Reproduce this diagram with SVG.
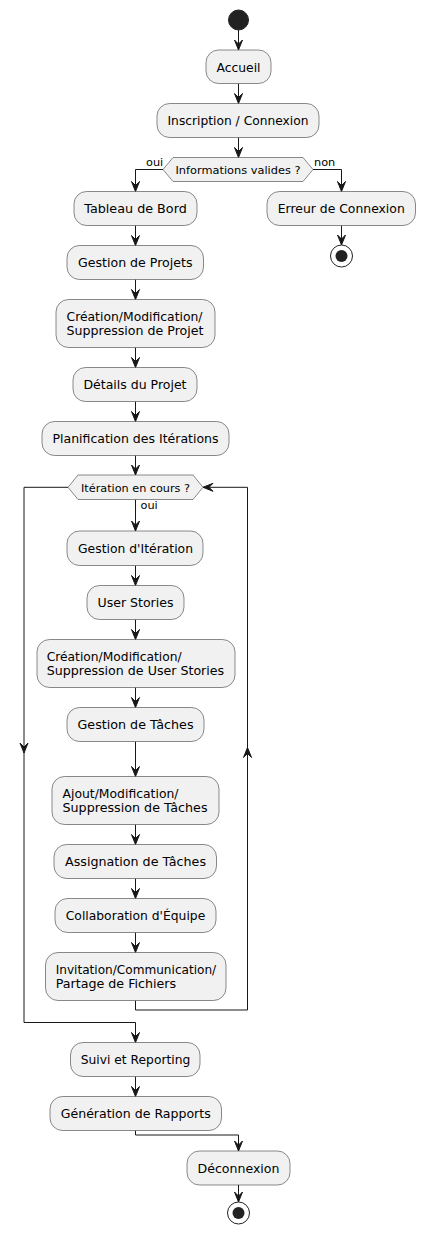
<svg xmlns="http://www.w3.org/2000/svg" width="425" height="1236" viewBox="0 0 425 1236">
<defs>
<style>
.box{fill:#F1F1F1;stroke:#181818;stroke-width:0.5}
.t{font-family:"DejaVu Sans",sans-serif;font-size:12.3px;fill:#000}
.tc{font-family:"DejaVu Sans",sans-serif;font-size:12.3px;fill:#000;text-anchor:middle}
.s{font-family:"DejaVu Sans",sans-serif;font-size:11.3px;fill:#000}
.sc{font-family:"DejaVu Sans",sans-serif;font-size:11.3px;fill:#000;text-anchor:middle}
.ln{fill:none;stroke:#181818;stroke-width:1}
.ah{fill:#181818;stroke:#181818;stroke-width:1}
</style>
</defs>
<rect width="425" height="1236" fill="#FFFFFF"/>
<g id="connectors">
<path class="ln" d="M238.5,30 L238.5,50"/>
<polygon class="ah" points="234.5,40 238.5,50 242.5,40 238.5,44"/>
<path class="ln" d="M238.5,83.5 L238.5,103.5"/>
<polygon class="ah" points="234.5,93.5 238.5,103.5 242.5,93.5 238.5,97.5"/>
<path class="ln" d="M238.5,137.5 L238.5,157.5"/>
<polygon class="ah" points="234.5,147.5 238.5,157.5 242.5,147.5 238.5,151.5"/>
<path class="ln" d="M163,169.5 L135.5,169.5 L135.5,191.5"/>
<polygon class="ah" points="131.5,181.5 135.5,191.5 139.5,181.5 135.5,185.5"/>
<path class="ln" d="M313,169.5 L341.5,169.5 L341.5,191.5"/>
<polygon class="ah" points="337.5,181.5 341.5,191.5 345.5,181.5 341.5,185.5"/>
<path class="ln" d="M341.5,225.5 L341.5,245"/>
<polygon class="ah" points="337.5,235 341.5,245 345.5,235 341.5,239"/>
<path class="ln" d="M135.5,225.5 L135.5,245.5"/>
<polygon class="ah" points="131.5,235.5 135.5,245.5 139.5,235.5 135.5,239.5"/>
<path class="ln" d="M135.5,279.5 L135.5,299.5"/>
<polygon class="ah" points="131.5,289.5 135.5,299.5 139.5,289.5 135.5,293.5"/>
<path class="ln" d="M135.5,347.5 L135.5,367.5"/>
<polygon class="ah" points="131.5,357.5 135.5,367.5 139.5,357.5 135.5,361.5"/>
<path class="ln" d="M135.5,401.5 L135.5,421.5"/>
<polygon class="ah" points="131.5,411.5 135.5,421.5 139.5,411.5 135.5,415.5"/>
<path class="ln" d="M135.5,455.5 L135.5,475"/>
<polygon class="ah" points="131.5,465 135.5,475 139.5,465 135.5,469"/>
<path class="ln" d="M135.5,499.5 L135.5,531"/>
<polygon class="ah" points="131.5,521 135.5,531 139.5,521 135.5,525"/>
<path class="ln" d="M135.5,565.5 L135.5,585.5"/>
<polygon class="ah" points="131.5,575.5 135.5,585.5 139.5,575.5 135.5,579.5"/>
<path class="ln" d="M135.5,619.5 L135.5,639.5"/>
<polygon class="ah" points="131.5,629.5 135.5,639.5 139.5,629.5 135.5,633.5"/>
<path class="ln" d="M135.5,687.5 L135.5,707.5"/>
<polygon class="ah" points="131.5,697.5 135.5,707.5 139.5,697.5 135.5,701.5"/>
<path class="ln" d="M135.5,741.5 L135.5,776.5"/>
<polygon class="ah" points="131.5,766.5 135.5,776.5 139.5,766.5 135.5,770.5"/>
<path class="ln" d="M135.5,824.5 L135.5,844.5"/>
<polygon class="ah" points="131.5,834.5 135.5,844.5 139.5,834.5 135.5,838.5"/>
<path class="ln" d="M135.5,878.5 L135.5,898.5"/>
<polygon class="ah" points="131.5,888.5 135.5,898.5 139.5,888.5 135.5,892.5"/>
<path class="ln" d="M135.5,932.5 L135.5,952.5"/>
<polygon class="ah" points="131.5,942.5 135.5,952.5 139.5,942.5 135.5,946.5"/>
<path class="ln" d="M135.5,1000.5 L135.5,1010 L247.5,1010 L247.5,487.3 L203,487.3"/>
<polygon class="ah" points="243.5,757.5 247.5,747.5 251.5,757.5 247.5,753.5"/>
<polygon class="ah" points="213,483.3 203,487.3 213,491.3 209,487.3"/>
<path class="ln" d="M68,487.3 L24,487.3 L24,1022.5 L135.5,1022.5 L135.5,1042.5"/>
<polygon class="ah" points="20,743 24,753 28,743 24,747"/>
<polygon class="ah" points="131.5,1032.5 135.5,1042.5 139.5,1032.5 135.5,1036.5"/>
<path class="ln" d="M135.5,1076.5 L135.5,1096.5"/>
<polygon class="ah" points="131.5,1086.5 135.5,1096.5 139.5,1086.5 135.5,1090.5"/>
<path class="ln" d="M135.5,1130.5 L135.5,1135 L238.5,1135 L238.5,1151"/>
<polygon class="ah" points="234.5,1141 238.5,1151 242.5,1141 238.5,1145"/>
<path class="ln" d="M238.5,1185 L238.5,1202"/>
<polygon class="ah" points="234.5,1192 238.5,1202 242.5,1192 238.5,1196"/>
</g>
<g id="start"><circle cx="238.5" cy="20" r="10" fill="#222222" stroke="#222222" stroke-width="1"/></g>
<g id="accueil"><rect class="box" x="206" y="50" width="65" height="33.5" rx="12.5"/><text class="tc" x="238.5" y="71.5" textLength="44" lengthAdjust="spacingAndGlyphs">Accueil</text></g>
<g id="inscription"><rect class="box" x="157" y="103.5" width="162" height="34" rx="12.5"/><text class="tc" x="238" y="125" textLength="141" lengthAdjust="spacingAndGlyphs">Inscription / Connexion</text></g>
<g id="decision1"><polygon class="box" points="163,169.5 173,157.5 303,157.5 313,169.5 303,181.5 173,181.5"/><text class="sc" x="238" y="173.5" textLength="125" lengthAdjust="spacingAndGlyphs">Informations valides ?</text>
<text class="s" x="146" y="166">oui</text><text class="s" x="314" y="166">non</text></g>
<g id="erreur"><rect class="box" x="267" y="191.5" width="148.5" height="34" rx="12.5"/><text class="tc" x="341.25" y="213" textLength="127" lengthAdjust="spacingAndGlyphs">Erreur de Connexion</text></g>
<g id="stop1"><circle cx="341.5" cy="256" r="11" fill="none" stroke="#222222" stroke-width="1"/><circle cx="341.5" cy="256" r="6" fill="#222222"/></g>
<g id="tableau"><rect class="box" x="74" y="191.5" width="123" height="34" rx="12.5"/><text class="tc" x="135.5" y="213" textLength="102.5" lengthAdjust="spacingAndGlyphs">Tableau de Bord</text></g>
<g id="gestionProjets"><rect class="box" x="67" y="245.5" width="136.5" height="34" rx="12.5"/><text class="tc" x="135.25" y="267" textLength="114.5" lengthAdjust="spacingAndGlyphs">Gestion de Projets</text></g>
<g id="crudProjet"><rect class="box" x="56" y="299.5" width="159" height="48" rx="12.5"/><text class="t" x="66.5" y="321" textLength="136" lengthAdjust="spacingAndGlyphs">Création/Modification/</text><text class="t" x="66.5" y="335" textLength="137" lengthAdjust="spacingAndGlyphs">Suppression de Projet</text></g>
<g id="details"><rect class="box" x="73" y="367.5" width="124" height="34" rx="12.5"/><text class="tc" x="135" y="389" textLength="103" lengthAdjust="spacingAndGlyphs">Détails du Projet</text></g>
<g id="planification"><rect class="box" x="42" y="421.5" width="187" height="34" rx="12.5"/><text class="tc" x="135.5" y="443" textLength="166" lengthAdjust="spacingAndGlyphs">Planification des Itérations</text></g>
<g id="decision2"><polygon class="box" points="68,487.3 78,475 193,475 203,487.3 193,499.5 78,499.5"/><text class="sc" x="135.5" y="491.5" textLength="109" lengthAdjust="spacingAndGlyphs">Itération en cours ?</text>
<text class="s" x="140.5" y="509">oui</text></g>
<g id="gestionIteration"><rect class="box" x="67" y="531" width="136" height="34.5" rx="12.5"/><text class="tc" x="135.5" y="552.5" textLength="115" lengthAdjust="spacingAndGlyphs">Gestion d'Itération</text></g>
<g id="userStories"><rect class="box" x="87" y="585.5" width="97" height="34" rx="12.5"/><text class="tc" x="135.5" y="607" textLength="76" lengthAdjust="spacingAndGlyphs">User Stories</text></g>
<g id="crudUS"><rect class="box" x="37" y="639.5" width="198" height="48" rx="12.5"/><text class="t" x="46.7" y="661" textLength="135" lengthAdjust="spacingAndGlyphs">Création/Modification/</text><text class="t" x="46.7" y="675" textLength="177.5" lengthAdjust="spacingAndGlyphs">Suppression de User Stories</text></g>
<g id="gestionTaches"><rect class="box" x="67" y="707.5" width="137" height="34" rx="12.5"/><text class="tc" x="135.5" y="729" textLength="116" lengthAdjust="spacingAndGlyphs">Gestion de Tâches</text></g>
<g id="crudTaches"><rect class="box" x="52" y="776.5" width="167" height="48" rx="12.5"/><text class="t" x="62.5" y="798" textLength="116" lengthAdjust="spacingAndGlyphs">Ajout/Modification/</text><text class="t" x="62.5" y="812" textLength="145" lengthAdjust="spacingAndGlyphs">Suppression de Tâches</text></g>
<g id="assignation"><rect class="box" x="54" y="844.5" width="162.5" height="34" rx="12.5"/><text class="tc" x="135.5" y="866" textLength="141" lengthAdjust="spacingAndGlyphs">Assignation de Tâches</text></g>
<g id="collaboration"><rect class="box" x="55" y="898.5" width="161" height="34" rx="12.5"/><text class="tc" x="135.5" y="920" textLength="139.5" lengthAdjust="spacingAndGlyphs">Collaboration d'Équipe</text></g>
<g id="invitation"><rect class="box" x="45.5" y="952.5" width="180.5" height="48" rx="12.5"/><text class="t" x="55.7" y="974" textLength="160.5" lengthAdjust="spacingAndGlyphs">Invitation/Communication/</text><text class="t" x="55.7" y="988" textLength="120.5" lengthAdjust="spacingAndGlyphs">Partage de Fichiers</text></g>
<g id="suivi"><rect class="box" x="70.5" y="1042.5" width="129.5" height="34" rx="12.5"/><text class="tc" x="135.5" y="1064" textLength="109.5" lengthAdjust="spacingAndGlyphs">Suivi et Reporting</text></g>
<g id="generation"><rect class="box" x="50" y="1096.5" width="171.5" height="34" rx="12.5"/><text class="tc" x="135.75" y="1118" textLength="150" lengthAdjust="spacingAndGlyphs">Génération de Rapports</text></g>
<g id="deconnexion"><rect class="box" x="187" y="1151" width="103" height="34" rx="12.5"/><text class="tc" x="238.5" y="1172.5" textLength="82" lengthAdjust="spacingAndGlyphs">Déconnexion</text></g>
<g id="stop2"><circle cx="238.5" cy="1213" r="11" fill="none" stroke="#222222" stroke-width="1"/><circle cx="238.5" cy="1213" r="6" fill="#222222"/></g>
</svg>
